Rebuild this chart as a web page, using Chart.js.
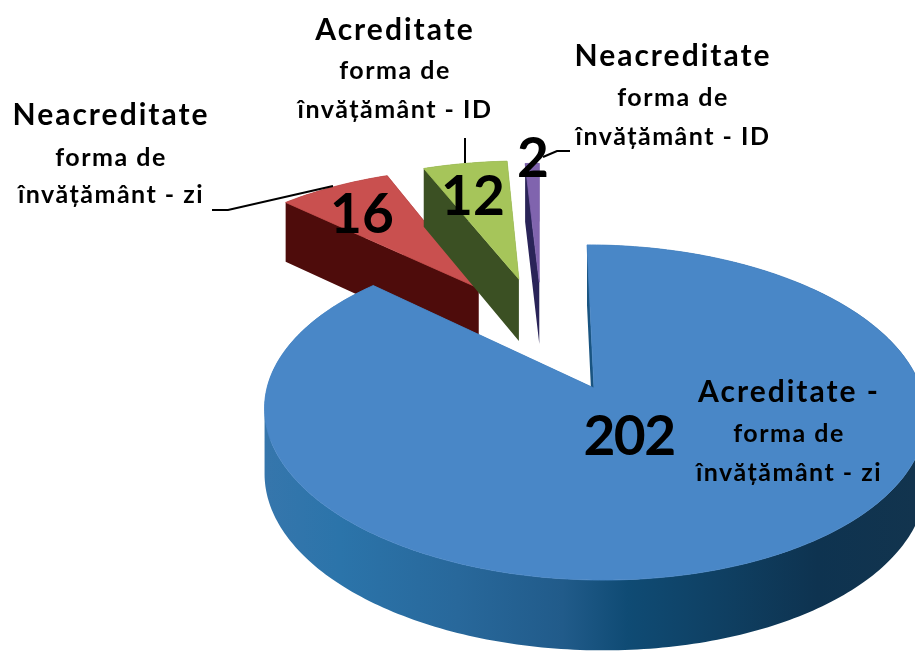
<!DOCTYPE html>
<html>
<head>
<meta charset="utf-8">
<style>
  html, body { margin: 0; padding: 0; background: #fff; overflow: hidden; }
  canvas { display: block; }
</style>
</head>
<body>
<canvas id="pie3d" width="915" height="652"></canvas>
<script src="https://cdn.jsdelivr.net/npm/chart.js@4"></script>
<script>
const categories = ['Acreditate - zi', 'Neacreditate - zi', 'Acreditate - ID', 'Neacreditate - ID'];
const values = [202, 16, 12, 2];
const labelHeads = ['Acreditate -', 'Neacreditate', 'Acreditate', 'Neacreditate'];
const labelMiddles = ['forma de', 'forma de', 'forma de', 'forma de'];
const labelTails = ['învățământ - zi', 'învățământ - zi', 'învățământ - ID', 'învățământ - ID'];

const topColors = ['#4987C7', '#C9504F', '#A6C55A', '#8064AE'];
const wallColors = [null, '#4E0C0B', '#3B5023', '#2A2458'];
const sliceOffsets = [0, 252, 250, 233];

// view of the tilted disc
const view = { cx: 594, cy: 388, R: 327, rise: 164, persp: 0.146, shear: -8, depth: 65 };
// small sideways correction of the exploded slices, in radius units
const nudges = [[0, 0], [0.062, 0.03], [-0.072, -0.012], [-0.148, 0]];

const project = (u, v, down) => {
    const w = 1 + view.persp * v;
    return {
        x: view.cx + (u * view.R + view.shear * v) / w,
        y: view.cy - view.rise * v / w + (down || 0) / Math.sqrt(w)
    };
};

function sliceOutline(arc, i) {
    const off = arc.options.offset / view.R;
    const mid = (arc.startAngle + arc.endAngle) / 2;
    const ou = Math.cos(mid) * off + nudges[i][0];
    const ov = -Math.sin(mid) * off + nudges[i][1];
    const pts = [[ou, ov]];
    const steps = Math.max(4, Math.round((arc.endAngle - arc.startAngle) * 60));
    for (let s = 0; s <= steps; s++) {
        const a = arc.startAngle + (arc.endAngle - arc.startAngle) * s / steps;
        pts.push([ou + Math.cos(a), ov - Math.sin(a)]);
    }
    return pts;
}

function wallFill(ctx, i) {
    if (wallColors[i]) return wallColors[i];
    const g = ctx.createLinearGradient(262, 0, 915, 0);
    g.addColorStop(0, '#3676AC');
    g.addColorStop(0.12, '#2B74AA');
    g.addColorStop(0.3, '#28689B');
    g.addColorStop(0.46, '#215B8A');
    g.addColorStop(0.56, '#0F4B74');
    g.addColorStop(0.7, '#0F4063');
    g.addColorStop(0.85, '#0E3350');
    g.addColorStop(1, '#12344E');
    return g;
}

function drawSlice(ctx, arc, i) {
    const pts = sliceOutline(arc, i);
    ctx.fillStyle = wallFill(ctx, i);
    ctx.beginPath();
    for (let s = 0; s < pts.length; s++) {
        const p = pts[s], q = pts[(s + 1) % pts.length];
        let quad = [project(p[0], p[1]), project(q[0], q[1]),
                    project(q[0], q[1], view.depth), project(p[0], p[1], view.depth)];
        // same winding for every quad so that one path fills them all
        let area = 0;
        quad.forEach((a, k) => {
            const b = quad[(k + 1) % 4];
            area += a.x * b.y - b.x * a.y;
        });
        if (area < 0) quad = quad.reverse();
        quad.forEach((a, k) => k === 0 ? ctx.moveTo(a.x, a.y) : ctx.lineTo(a.x, a.y));
        ctx.closePath();
    }
    ctx.fill();

    ctx.fillStyle = topColors[i];
    ctx.strokeStyle = topColors[i];
    ctx.lineWidth = 0.8;
    ctx.beginPath();
    pts.forEach((p, s) => {
        const t = project(p[0], p[1]);
        if (s === 0) ctx.moveTo(t.x, t.y); else ctx.lineTo(t.x, t.y);
    });
    ctx.closePath();
    ctx.fill();
    ctx.stroke();
}

const pie3d = {
    id: 'pie3d',
    beforeDatasetDraw(chart, args) {
        const ctx = chart.ctx;
        const arcs = args.meta.data;
        ctx.save();
        // far slices first, the big one sits over them
        [1, 2, 3, 0].forEach(i => drawSlice(ctx, arcs[i], i));
        ctx.restore();
        return false;
    }
};

const labelPlaces = [
    { x: 789, y: [402, 442, 481] },
    { x: 111, y: [125, 166, 203] },
    { x: 395, y: [40, 79, 118] },
    { x: 673, y: [66, 106, 145] }
];
const valuePlaces = [[629, 455], [362, 233], [473, 215], [533, 177]];
const leaders = [
    [[212, 210], [228, 210], [333, 186]],
    [[465, 138], [465, 163]],
    [[543, 157], [557, 151], [570, 151]]
];

const labelsPlugin = {
    id: 'labels3d',
    afterDatasetsDraw(chart) {
        const ctx = chart.ctx;
        ctx.save();
        ctx.strokeStyle = '#000';
        ctx.lineWidth = 2;
        leaders.forEach(line => {
            ctx.beginPath();
            line.forEach((p, s) => s === 0 ? ctx.moveTo(p[0], p[1]) : ctx.lineTo(p[0], p[1]));
            ctx.stroke();
        });
        ctx.fillStyle = '#000';
        ctx.textAlign = 'center';
        ctx.textBaseline = 'alphabetic';
        labelHeads.forEach((head, i) => {
            const place = labelPlaces[i];
            ctx.font = 'bold 30px Lato';
            ctx.letterSpacing = '2px';
            ctx.fillText(head, place.x, place.y[0]);
            ctx.font = 'bold 25px Lato';
            ctx.letterSpacing = '1.5px';
            ctx.fillText(labelMiddles[i], place.x, place.y[1]);
            ctx.fillText(labelTails[i], place.x, place.y[2]);
        });
        ctx.font = 'bold 55px Lato';
        values.forEach((val, i) => {
            ctx.letterSpacing = val > 99 ? '-1.5px' : '0px';
            ctx.fillText(String(val), valuePlaces[i][0], valuePlaces[i][1]);
        });
        ctx.restore();
    }
};

new Chart(document.getElementById('pie3d').getContext('2d'), {
    type: 'pie',
    data: {
        labels: categories,
        datasets: [{
            data: values,
            backgroundColor: topColors,
            offset: sliceOffsets,
            borderWidth: 0
        }]
    },
    options: {
        responsive: false,
        animation: false,
        devicePixelRatio: 1,
        plugins: {
            legend: { display: false },
            tooltip: { enabled: false }
        }
    },
    plugins: [pie3d, labelsPlugin]
});
</script>
</body>
</html>
